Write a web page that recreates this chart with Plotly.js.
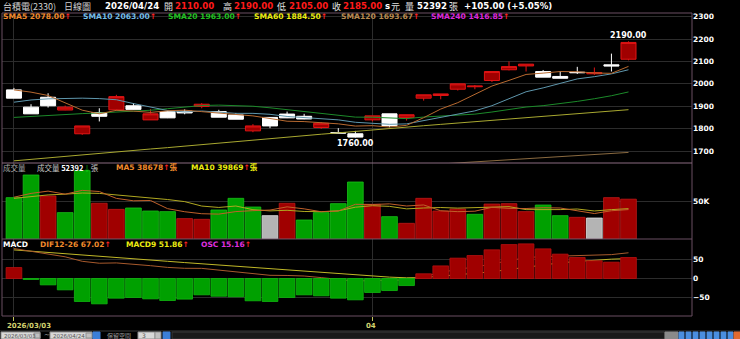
<!DOCTYPE html>
<html><head><meta charset="utf-8">
<script src="https://cdn.plot.ly/plotly-3.0.1.min.js"></script>
<style>html,body{margin:0;padding:0;background:#000;overflow:hidden}#chart{width:740px;height:339px}</style>
</head><body><div id="chart"></div>
<script>
// ---------------- data ----------------
const tickIdx    = [0, 21];
const tickLabels = ['2026/03/03', '04'];
const prevClose  = 1975;
const opens  = [1973,1896,1940,1883,1777,1872,1884,1902,1839,1876,1878,1899,1876,1861,1790,1850,1865,1855,1805,1782,1777,1839,1866,1850,1936,1948,1976,1987,2015,2063,2080,2055,2033,2052,2045,2085,2110];
const highs  = [1982,1909,1958,1903,1812,1891,1951,1914,1887,1881,1886,1914,1884,1870,1820,1850,1876,1866,1829,1802,1790,1857,1866,1862,1951,1955,2000,1995,2055,2100,2088,2062,2057,2076,2073,2135,2190];
const lows   = [1936,1866,1894,1882,1772,1832,1879,1885,1839,1847,1864,1891,1851,1842,1784,1802,1847,1842,1799,1780,1760,1832,1806,1836,1925,1931,1970,1976,2008,2060,2055,2030,2025,2044,2040,2055,2105];
const closes = [1936,1866,1902,1896,1812,1855,1943,1886,1866,1848,1870,1909,1851,1842,1812,1812,1848,1843,1824,1780,1762,1857,1812,1862,1951,1955,2000,1990,2055,2077,2088,2030,2025,2050,2050,2080,2185];
const volumes = [54400,84200,56600,34700,89900,47000,39000,40800,36800,36000,26800,25900,38200,53500,42100,30700,47000,25000,34700,46500,75000,45600,29400,20600,53500,36800,39500,32500,46000,46500,36000,44700,30700,28500,27600,54400,52392];
// moving-average values before a full window exists
const sma5Head  = [1973,1963,1948,1914];
const sma10Head = [1918,1928,1933,1935,1936,1934,1929,1912,1896];
const sma20Head = [1850,1855,1860,1864,1867,1870,1873,1877,1882,1889,1897,1903,1905,1904,1900,1893,1885,1877,1868];
const volMa5Head  = [55000,60000,63000,59000];
const volMa10Head = [53500,56000,58000,59000,60500,60000,58000,56500,54000];
const sma60  = [1656,1663,1669,1676,1682,1689,1696,1702,1709,1715,1722,1729,1735,1742,1748,1755,1762,1768,1775,1781,1788,1795,1801,1807,1813,1819,1825,1831,1837,1843,1849,1855,1861,1867,1873,1879,1884.5];
const sma120 = [null,null,null,null,null,null,null,null,null,null,null,null,null,null,null,null,null,null,null,null,null,null,null,null,null,1642,1647,1652,1656,1661,1666,1670,1675,1680,1684,1689,1693.67];
const smaNames  = ['SMA5','SMA10','SMA20','SMA60','SMA120','SMA240'];
const smaLast   = ['2078.00','2063.00','1963.00','1884.50','1693.67','1416.85'];
const volMaLast = ['38678','39869'];
const dif   = [78.0,70.7,63.5,56.5,44.8,39.8,40.6,37.8,33.4,28.9,26.6,26.4,22.1,18.3,12.1,8.3,7.9,6.5,2.4,-2.6,-7.1,-4.8,-5.1,-3.3,6.1,15.3,24.3,29.7,38.1,48.0,54.6,57.1,58.5,59.6,60.6,62.2,67.02];
const macd9 = [74.5,71.4,68.1,64.7,61.4,58.1,54.8,51.5,48.1,44.8,41.5,38.2,34.9,31.5,28.2,24.9,21.6,18.3,14.9,11.6,8.3,5.3,3.6,1.8,2.7,6.2,9.6,13.1,17.4,23.5,29.6,35.7,40.9,44.4,47.8,50.4,51.86];
const osc   = [7.9,-0.7,-4.6,-8.2,-16.6,-18.3,-14.2,-13.7,-14.7,-15.9,-14.9,-11.8,-12.8,-13.2,-16.1,-16.6,-13.7,-11.8,-12.5,-14.2,-15.4,-10.1,-8.7,-5.1,3.4,9.1,14.7,16.6,20.7,24.5,25.0,21.4,17.6,15.2,12.8,11.8,15.16];

// ---------------- derived ----------------
const N = closes.length;
const idx = closes.map((_, i) => i);
function movAvg(arr, n, head) {
  return arr.map((v, i) => {
    if (i < n - 1) return head[i];
    let s = 0; for (let k = i - n + 1; k <= i; k++) s += arr[k]; return s / n;
  });
}
const sma5 = movAvg(closes, 5, sma5Head);
const sma10 = movAvg(closes, 10, sma10Head);
const sma20 = movAvg(closes, 20, sma20Head);
const volMa5 = movAvg(volumes, 5, volMa5Head);
const volMa10 = movAvg(volumes, 10, volMa10Head);
const dir = closes.map((c, i) => Math.sign(c - (i === 0 ? prevClose : closes[i - 1])));
const volColors = dir.map(d => d > 0 ? '#a00000' : (d < 0 ? '#00a000' : '#b4b4b4'));
const volLine = dir.map(d => d > 0 ? '#c01818' : (d < 0 ? '#18c018' : '#e0e0e0'));
const oscColors = osc.map(v => v >= 0 ? '#a00000' : '#00a000');
const oscLine = osc.map(v => v >= 0 ? '#b81010' : '#10b810');

// ---------------- geometry helpers (pixel -> paper) ----------------
const L = 2, PW = 690, T = 13, PH = 303;
const px = p => (p - L) / PW;
const py = p => (T + PH - p) / PH;
const FONT = 'DejaVu Sans, Noto Sans CJK TC, sans-serif';
const CJK = 'Noto Sans CJK TC, DejaVu Sans, sans-serif';
function lab(x, y, text, color, size, family, weight, anchor) {
  return {xref: 'paper', yref: 'paper', x: px(x), y: py(y), xanchor: anchor || 'left', yanchor: 'middle',
    text: text, showarrow: false, borderpad: 0,
    font: {family: family || FONT, size: size, color: color, weight: weight || 'bold'}};
}
const ARU = '<span style="color:#ff2020">↑</span>';
const ARD = '<span style="color:#10d010">↓</span>';

const last = N - 1;
const chg = closes[last] - closes[last - 1];
const pct = chg / closes[last - 1] * 100;
const fmt = v => v.toFixed(2);
const HS = 8.6;

const annotations = [
  lab(2, 6, '台積電(2330)', '#d0d0d0', 9, CJK, 'normal'),
  lab(63, 6, '日線圖', '#d0d0d0', 9, CJK, 'normal'),
  lab(104, 6, '2026/04/24', '#ffffff', HS),
  lab(163, 6, '開', '#e0e0e0', 9, CJK, 'normal'),
  lab(174, 6, fmt(opens[last]), '#ff1a1a', HS),
  lab(222, 6, '高', '#e0e0e0', 9, CJK, 'normal'),
  lab(233, 6, fmt(highs[last]), '#ff1a1a', HS),
  lab(276, 6, '低', '#e0e0e0', 9, CJK, 'normal'),
  lab(288, 6, fmt(lows[last]), '#ff1a1a', HS),
  lab(331, 6, '收', '#e0e0e0', 9, CJK, 'normal'),
  lab(342, 6, fmt(closes[last]), '#ff1a1a', HS),
  lab(384, 6, 's', '#ffffff', HS),
  lab(390, 6, '元', '#e0e0e0', 9, CJK, 'normal'),
  lab(404, 6, '量', '#e0e0e0', 9, CJK, 'normal'),
  lab(416, 6, String(volumes[last]), '#ffffff', HS),
  lab(448, 6, '張', '#e0e0e0', 9, CJK, 'normal'),
  lab(463, 6, (chg >= 0 ? '+' : '') + fmt(chg) + ' (' + (pct >= 0 ? '+' : '') + pct.toFixed(2) + '%)', '#ffffff', HS),
];
const smaColors = ['#f08a2c', '#74bde8', '#22c022', '#ecec10', '#b88a50', '#dc28dc'];
const smaX = [2, 82, 167, 253, 340, 430];
smaNames.forEach((n, i) => annotations.push(lab(smaX[i], 16.7, n + ' ' + smaLast[i] + ARU, smaColors[i], 7.6)));
annotations.push(lab(2, 167.5, '成交量', '#a8a8a8', 7.5, CJK, 'normal'));
annotations.push(lab(36, 167.5, '成交量 <span style="color:#ffffff;font-weight:bold">' + volumes[last] + '</span>' + ARD + '張', '#c8c8c8', 7.5, CJK, 'normal'));
annotations.push(lab(115, 167.5, 'MA5 ' + volMaLast[0] + ARU + '張', '#f08a2c', 7.5));
annotations.push(lab(190, 167.5, 'MA10 ' + volMaLast[1] + ARU + '張', '#ecec10', 7.5));
annotations.push(lab(2, 245, 'MACD', '#ffffff', 7.5));
annotations.push(lab(39, 245, 'DIF12-26 ' + fmt(dif[last]) + ARU, '#f08a2c', 7.5));
annotations.push(lab(125, 245, 'MACD9 ' + fmt(macd9[last]) + ARU, '#ecec10', 7.5));
annotations.push(lab(200, 245, 'OSC ' + fmt(osc[last]) + ARU, '#e030e0', 7.5));
annotations.push(lab(6, 325.5, tickLabels[0], '#d4d470', 7));
annotations.push(lab(371, 325.5, tickLabels[1], '#d4d470', 7, FONT, 'bold', 'center'));
// max / min labels from the data
const hiI = highs.indexOf(Math.max(...highs));
const loI = lows.indexOf(Math.min(...lows));
annotations.push({xref: 'x', yref: 'y', x: hiI, y: highs[hiI], yanchor: 'bottom', xanchor: 'center', showarrow: false,
  text: fmt(highs[hiI]), font: {family: FONT, size: 8, color: '#ffffff', weight: 'bold'}, borderpad: 0});
annotations.push({xref: 'x', yref: 'y', x: loI, y: lows[loI], yanchor: 'top', xanchor: 'center', showarrow: false,
  text: fmt(lows[loI]), font: {family: FONT, size: 8, color: '#ffffff', weight: 'bold'}, borderpad: 0});
// toolbar texts
annotations.push(lab(3, 335.5, '2026/03/03', '#555555', 5.5, FONT, 'normal'));
annotations.push(lab(43, 335, '~', '#bbbbbb', 7, FONT, 'normal'));
annotations.push(lab(52, 335.5, '2026/04/24', '#555555', 5.5, FONT, 'normal'));
annotations.push(lab(106, 335.5, '保留空間', '#9a9a9a', 6, CJK, 'normal'));
annotations.push(lab(141, 335.5, '3', '#555555', 6, FONT, 'normal'));

// ---------------- shapes ----------------
const FR = '#6a4e62';
const shapes = [
  {type: 'rect', xref: 'paper', yref: 'paper', x0: 0, x1: 1, y0: 0, y1: 1, line: {color: FR, width: 1}},
  {type: 'line', xref: 'paper', yref: 'paper', x0: 0, x1: 1, y0: py(163), y1: py(163), line: {color: '#8a6a80', width: 1.2}},
  {type: 'line', xref: 'paper', yref: 'paper', x0: 0, x1: 1, y0: py(239), y1: py(239), line: {color: FR, width: 1}},
  {type: 'line', xref: 'paper', yref: 'paper', x0: px(0), x1: px(740), y0: py(331), y1: py(331), line: {color: '#3a3a3a', width: 1}},
];
function box(x0, x1, y0, y1, fill, line) {
  shapes.push({type: 'rect', xref: 'paper', yref: 'paper', x0: px(x0), x1: px(x1), y0: py(y1), y1: py(y0),
    fillcolor: fill, line: {color: line || fill, width: 1}});
}
box(1, 40, 332, 339, '#d8d8d8', '#909090');
box(34, 40, 333, 338, '#c0c0c0', '#909090');
box(50, 92, 332, 339, '#d8d8d8', '#909090');
box(86, 92, 333, 338, '#c0c0c0', '#909090');
box(93, 100, 332, 339, '#3c7fd8');
box(138, 155, 332, 339, '#d8d8d8', '#909090');
box(155, 161, 332, 339, '#c0c0c0', '#909090');
box(163, 170, 332, 339, '#3c7fd8');
box(172, 665, 332, 339, '#1a1a1a', '#3a3a3a');
box(665, 678, 332, 339, '#8a8a8a');
for (let k = 0; k < 8; k++) box(679 + k * 7, 684 + k * 7, 332, 339, '#4a8ee0');
box(734, 740, 332, 339, '#e06a30');

// ---------------- traces ----------------
const traces = [
  {type: 'candlestick', x: idx, open: opens, high: highs, low: lows, close: closes, xaxis: 'x', yaxis: 'y',
    increasing: {line: {color: '#e01414', width: 1}, fillcolor: '#a00000'},
    decreasing: {line: {color: '#ffffff', width: 1}, fillcolor: '#ffffff'},
    whiskerwidth: 0, hoverinfo: 'skip', showlegend: false},
  {type: 'scatter', mode: 'lines', x: idx, y: sma120, yaxis: 'y', line: {color: '#8a6a40', width: 1}, showlegend: false, hoverinfo: 'skip'},
  {type: 'scatter', mode: 'lines', x: idx, y: sma60, yaxis: 'y', line: {color: '#a8a830', width: 1}, showlegend: false, hoverinfo: 'skip'},
  {type: 'scatter', mode: 'lines', x: idx, y: sma20, yaxis: 'y', line: {color: '#1c8a2a', width: 1}, showlegend: false, hoverinfo: 'skip'},
  {type: 'scatter', mode: 'lines', x: idx, y: sma10, yaxis: 'y', line: {color: '#5f97ad', width: 1}, showlegend: false, hoverinfo: 'skip'},
  {type: 'scatter', mode: 'lines', x: idx, y: sma5, yaxis: 'y', line: {color: '#b86a30', width: 1}, showlegend: false, hoverinfo: 'skip'},
  {type: 'bar', x: idx, y: volumes, yaxis: 'y2', width: 0.92, marker: {color: volColors, line: {color: volLine, width: 0.8}}, showlegend: false, hoverinfo: 'skip'},
  {type: 'scatter', mode: 'lines', x: idx, y: volMa10, yaxis: 'y2', line: {color: '#b0a820', width: 1}, showlegend: false, hoverinfo: 'skip'},
  {type: 'scatter', mode: 'lines', x: idx, y: volMa5, yaxis: 'y2', line: {color: '#c0602a', width: 1}, showlegend: false, hoverinfo: 'skip'},
  {type: 'bar', x: idx, y: osc, yaxis: 'y4', width: 0.92, marker: {color: oscColors, line: {color: oscLine, width: 0.8}}, showlegend: false, hoverinfo: 'skip'},
  {type: 'scatter', mode: 'lines', x: idx, y: macd9, yaxis: 'y3', line: {color: '#c0b828', width: 1}, showlegend: false, hoverinfo: 'skip'},
  {type: 'scatter', mode: 'lines', x: idx, y: dif, yaxis: 'y3', line: {color: '#a85a2c', width: 1}, showlegend: false, hoverinfo: 'skip'},
];

const GRID = '#2c2c2c';
const tickFont = {family: FONT, size: 7.5, color: '#ffffff', weight: 'bold'};
const yCommon = {side: 'right', showgrid: true, gridcolor: GRID, gridwidth: 1, zeroline: false, showline: false,
  ticks: '', tickfont: tickFont, fixedrange: true, anchor: 'x', ticklabelstandoff: 0};
const mainDomTop = 1, mainDomBot = py(163), volBot = py(239);
const layout = {
  width: 740, height: 339, margin: {l: L, r: 740 - L - PW, t: T, b: 339 - T - PH, pad: 0},
  paper_bgcolor: '#000000', plot_bgcolor: '#000000', showlegend: false,
  boxgap: 0.12, boxgroupgap: 0, bargap: 0, barmode: 'overlay',
  xaxis: {range: [-0.7, 39.72], anchor: 'y3', tickvals: tickIdx, ticktext: ['', ''], ticks: 'outside', ticklen: 4,
    tickcolor: '#c8c860', tickwidth: 1, showgrid: true, gridcolor: GRID, zeroline: false, showline: false,
    rangeslider: {visible: false}, fixedrange: true},
  yaxis: Object.assign({}, yCommon, {domain: [mainDomBot, mainDomTop], range: [1646.4, 2316.5],
    tickvals: [1700, 1800, 1900, 2000, 2100, 2200, 2300]}),
  yaxis2: Object.assign({}, yCommon, {domain: [volBot, mainDomBot], range: [0, 100000], tickvals: [50000], ticktext: ['50K']}),
  yaxis3: Object.assign({}, yCommon, {domain: [0, volBot], range: [-97.7, 102.9], tickvals: [-50, 0, 50]}),
  yaxis4: {overlaying: 'y3', range: [-27.09, 28.53], visible: false, fixedrange: true, anchor: 'x'},
  annotations: annotations, shapes: shapes,
};
Plotly.newPlot('chart', traces, layout, {displayModeBar: false, staticPlot: true});
</script></body></html>
